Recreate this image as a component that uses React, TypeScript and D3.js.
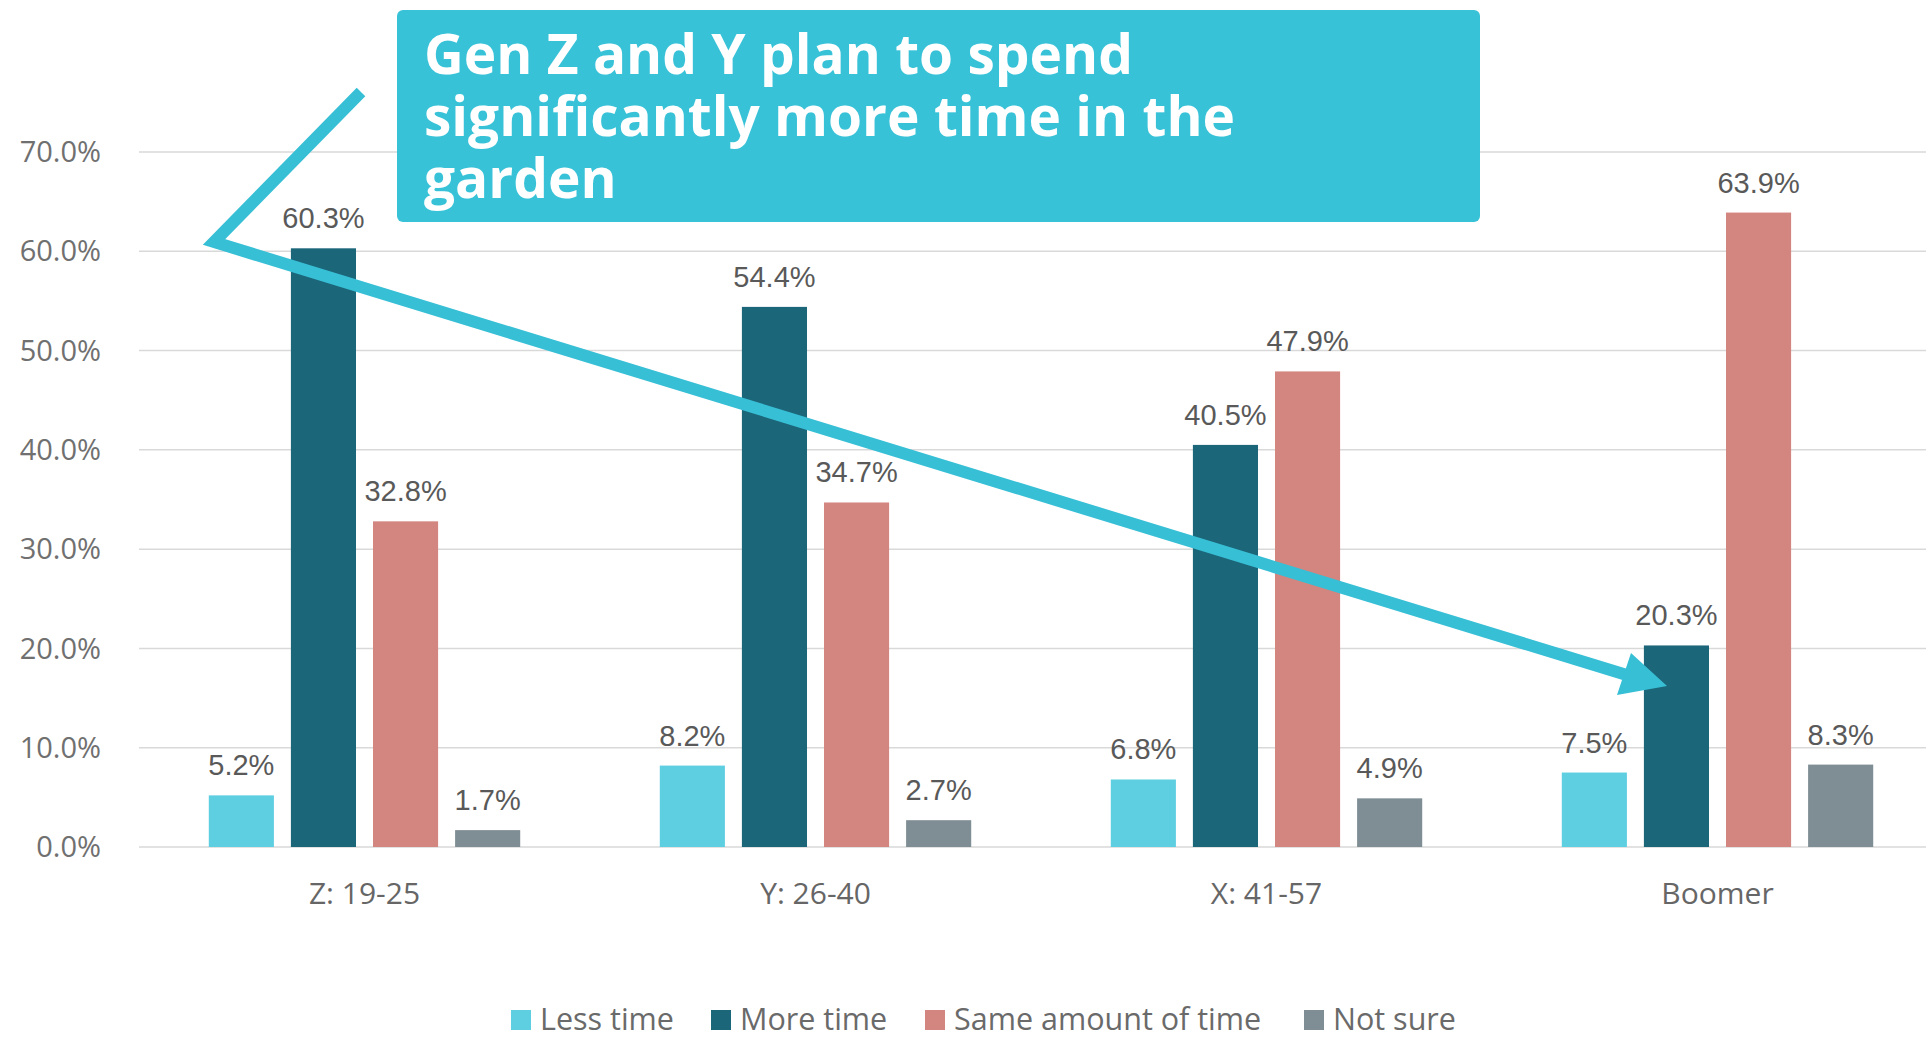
import React from "react";
import { scaleBand, scaleLinear } from "d3";

const categories = ["Z: 19-25", "Y: 26-40", "X: 41-57", "Boomer"];
const seriesNames = ["Less time", "More time", "Same amount of time", "Not sure"];
const lessTime = [5.2, 8.2, 6.8, 7.5];
const moreTime = [60.3, 54.4, 40.5, 20.3];
const sameTime = [32.8, 34.7, 47.9, 63.9];
const notSure = [1.7, 2.7, 4.9, 8.3];
const yTicks = [0, 10, 20, 30, 40, 50, 60, 70];
const calloutLines = ["Gen Z and Y plan to spend", "significantly more time in the", "garden"];

const colors = ["#5ECFE1", "#1C6679", "#D3857F", "#7F8D94"];

export const App = () => {
  const width = 1926;
  const height = 1037;
  const margin = { top: 152, right: -17, bottom: 190, left: 139 };
  const innerWidth = width - margin.left - margin.right;
  const innerHeight = height - margin.top - margin.bottom;

  const values = [lessTime, moreTime, sameTime, notSure];

  const xScale = scaleBand().domain(categories).range([0, innerWidth]);
  const xInner = scaleBand()
    .domain(seriesNames)
    .range([0, xScale.bandwidth()])
    .paddingInner(0.207)
    .paddingOuter(0.85);
  const yScale = scaleLinear().domain([0, 70]).range([innerHeight, 0]);

  // legend layout
  const legendX = [511, 711, 925, 1304];
  const legendY = 1019;

  return (
    <svg
      width={width}
      height={height}
      style={{ position: "absolute", left: 0, top: 0, display: "block", background: "#fff" }}
    >
      <g transform={`translate(${margin.left},${margin.top})`}>
        {yTicks.map((t) => (
          <g key={t}>
            <line
              x1={0}
              x2={width - margin.left}
              y1={yScale(t)}
              y2={yScale(t)}
              stroke="#d9d9d9"
              strokeWidth={1.5}
            />
            <text
              x={-38}
              y={yScale(t)}
              dy="0.35em"
              textAnchor="end"
              fontFamily="'Open Sans', sans-serif"
              fontSize={29}
              fill="#707070"
            >
              {t.toFixed(1)}%
            </text>
          </g>
        ))}

        {categories.map((c, ci) => (
          <g key={c} transform={`translate(${xScale(c)},0)`}>
            {seriesNames.map((s, si) => {
              const v = values[si][ci];
              const x = xInner(s) as number;
              return (
                <g key={s}>
                  <rect
                    x={x}
                    y={yScale(v)}
                    width={xInner.bandwidth()}
                    height={innerHeight - yScale(v)}
                    fill={colors[si]}
                  />
                  <text
                    x={x + xInner.bandwidth() / 2}
                    y={yScale(v) - 20}
                    textAnchor="middle"
                    fontFamily="'Liberation Sans', Arial, sans-serif"
                    fontSize={29}
                    fill="#595959"
                  >
                    {v.toFixed(1)}%
                  </text>
                </g>
              );
            })}
            <text
              x={xScale.bandwidth() / 2}
              y={innerHeight + 57}
              textAnchor="middle"
              fontFamily="'Open Sans', sans-serif"
              fontSize={30}
              fill="#666"
            >
              {c}
            </text>
          </g>
        ))}
      </g>

      {/* legend */}
      {seriesNames.map((s, i) => (
        <g key={s} transform={`translate(${legendX[i]},${legendY})`}>
          <rect x={0} y={-9} width={20} height={20} fill={colors[i]} />
          <text
            x={29}
            y={0}
            dy="0.36em"
            fontFamily="'Open Sans', sans-serif"
            fontSize={30.5}
            fill="#6a6a6a"
          >
            {s}
          </text>
        </g>
      ))}

      {/* annotation arrow */}
      <polyline
        points="361,92 214,242 1630,676"
        fill="none"
        stroke="#37BFD6"
        strokeWidth={12}
        strokeLinejoin="miter"
      />
      <polygon points="1667,686 1631,653 1617,695" fill="#37BFD6" />

      {/* callout */}
      <rect x={397} y={10} width={1083} height={212} rx={6} fill="#38C2D8" />
      {calloutLines.map((l, i) => (
        <text
          key={l}
          x={424}
          y={74 + i * 62}
          fontFamily="'Open Sans', sans-serif"
          fontWeight={700}
          fontSize={55}
          fill="#fff"
        >
          {l}
        </text>
      ))}
    </svg>
  );
};

export default App;
